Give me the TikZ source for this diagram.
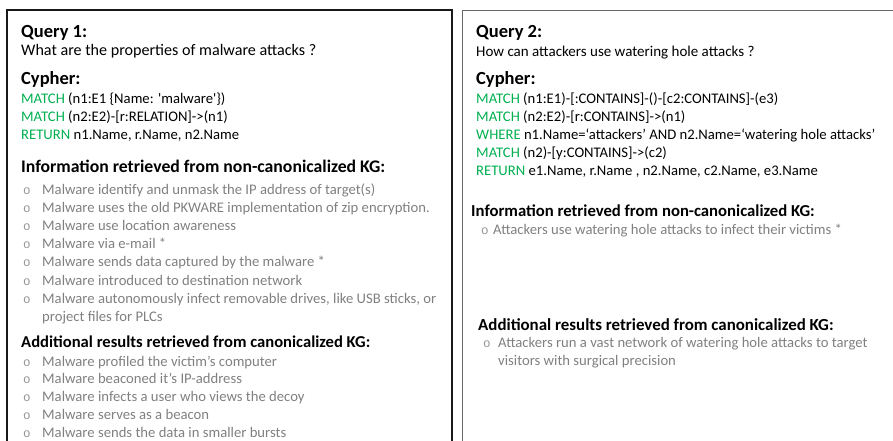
\documentclass[tikz,border=0pt]{standalone}
\usepackage{fontspec}
\setmainfont{Carlito}
\newfontfamily\bulletfont{Liberation Mono}
\definecolor{kwgreen}{RGB}{0,176,80}
\definecolor{itemgray}{RGB}{128,128,128}
\definecolor{bulgray}{RGB}{150,150,150}
\definecolor{boxgray}{RGB}{105,105,105}
\newcommand{\cykw}[1]{\textcolor{kwgreen}{#1}}

\begin{document}
\begin{tikzpicture}[x=1pt, y=-1pt,
    hd/.style={anchor=base west, inner sep=0, font=\bfseries\fontsize{18.5}{22}\selectfont},
    sec/.style={anchor=base west, inner sep=0, font=\bfseries\fontsize{#1}{20}\selectfont},
    sec/.default=16.8,
    txt/.style={anchor=base west, inner sep=0, font=\fontsize{14.67}{18}\selectfont},
    qtxt/.style={anchor=base west, inner sep=0, font=\fontsize{#1}{18}\selectfont},
    itm/.style={txt, text=itemgray},
    bul/.style={anchor=base west, inner sep=0, text=bulgray,
        font=\bulletfont\fontsize{12.5}{18}\selectfont}
]
\useasboundingbox (0,0) rectangle (893,441);

% the two boxes, open at the bottom
\draw[line width=1.2pt, black!90] (7,441) |- (452,10) -- (452,441);
\draw[line width=1.4pt, boxgray] (462.7,441) |- (893,10.7);

% query 1
\node[hd] (q1) at (21,37.5) {Query 1:};
\node[qtxt=16.1] (q1q) at (21,56) {What are the properties of malware attacks ?};
\node[hd] (c1) at (21,84.5) {Cypher:};
\node[txt] (c1a) at (21,103.5) {\cykw{MATCH} (n1:E1 \{Name: \textquotesingle malware\textquotesingle\})};
\node[txt] (c1b) at (21,121.5) {\cykw{MATCH} (n2:E2)-[r:RELATION]->(n1)};
\node[txt] (c1c) at (21,139.5) {\cykw{RETURN} n1.Name, r.Name, n2.Name};

\node[sec=17.7] (i1) at (21,172) {Information retrieved from non-canonicalized KG:};
\foreach \t [count=\i] in {Malware identify and unmask the IP address of target(s),
    Malware uses the old PKWARE implementation of zip encryption.,
    Malware use location awareness,
    Malware via e-mail *,
    Malware sends data captured by the malware *,
    Malware introduced to destination network,
    {Malware autonomously infect removable drives, like USB sticks, or}}{
  \node[bul] (i1b\i) at (23,{194.5+18.1*(\i-1)}) {o};
  \node[itm] (i1t\i) at (42,{194.5+18.1*(\i-1)}) {\t};
}
\node[itm] (i1t8) at (42,321.2) {project files for PLCs};

\node[sec=16.6] (a1) at (21,347.5) {Additional results retrieved from canonicalized KG:};
\foreach \t [count=\i] in {Malware profiled the victim’s computer,
    Malware beaconed it’s IP-address,
    Malware infects a user who views the decoy,
    Malware serves as a beacon,
    Malware sends the data in smaller bursts}{
  \node[bul] (a1b\i) at (23,{366+17.9*(\i-1)}) {o};
  \node[itm] (a1t\i) at (42,{366+17.9*(\i-1)}) {\t};
}

% query 2
\node[hd] (q2) at (476,37.5) {Query 2:};
\node[qtxt=15] (q2q) at (476,57) {How can attackers use watering hole attacks ?};
\node[hd] (c2) at (476,84.5) {Cypher:};
\node[txt] (c2a) at (476,103.5) {\cykw{MATCH} (n1:E1)-[:CONTAINS]-()-[c2:CONTAINS]-(e3)};
\node[txt] (c2b) at (476,121.5) {\cykw{MATCH} (n2:E2)-[r:CONTAINS]->(n1)};
\node[txt] (c2c) at (476,139.5) {\cykw{WHERE} n1.Name=‘attackers’ AND n2.Name=‘watering hole attacks’};
\node[txt] (c2d) at (476,157.5) {\cykw{MATCH} (n2)-[y:CONTAINS]->(c2)};
\node[txt] (c2e) at (476,175.5) {\cykw{RETURN} e1.Name, r.Name , n2.Name, c2.Name, e3.Name};

\node[sec=16.7] (i2) at (471,216.5) {Information retrieved from non-canonicalized KG:};
\node[bul] (i2b1) at (481,234.5) {o};
\node[itm] (i2t1) at (493,234.5) {Attackers use watering hole attacks to infect their victims *};

\node[sec=16.9] (a2) at (478,330.5) {Additional results retrieved from canonicalized KG:};
\node[bul] (a2b1) at (483,347.5) {o};
\node[itm] (a2t1) at (498,347.5) {Attackers run a vast network of watering hole attacks to target};
\node[itm] (a2t2) at (498,365.5) {visitors with surgical precision};
\end{tikzpicture}
\end{document}
